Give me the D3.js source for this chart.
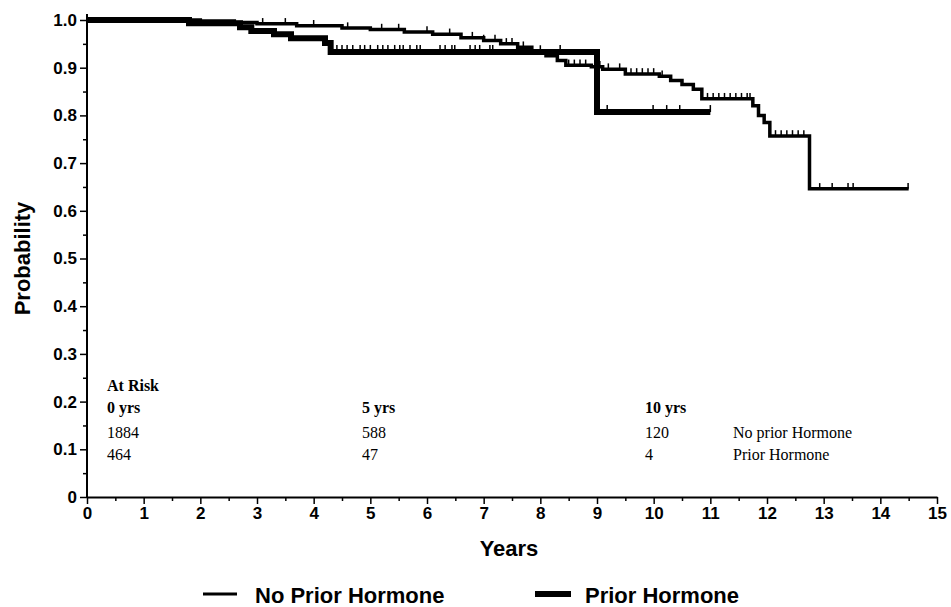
<!DOCTYPE html>
<html>
<head>
<meta charset="utf-8">
<script src="https://cdn.jsdelivr.net/npm/d3@7"></script>
<style>
	body { margin: 0; background: white; }
	.tick text { font-family: 'Liberation Sans', Arial, sans-serif; font-weight: bold; font-size: 17px; fill: black; }
	.axisLabel { font-family: 'Liberation Sans', Arial, sans-serif; font-weight: bold; font-size: 22px; }
	.risk { font-family: 'Liberation Serif', 'Times New Roman', serif; font-size: 16px; }
	.riskBold { font-family: 'Liberation Serif', 'Times New Roman', serif; font-size: 16px; font-weight: bold; }
	.legend { font-family: 'Liberation Sans', Arial, sans-serif; font-weight: bold; font-size: 22px; }
</style>
</head>
<body>
<div></div>
<script>
// Kaplan-Meier steps: time (years) and survival after that time
var no_prior_time = [0, 2.0, 2.6, 3.0, 3.7, 4.5, 5.0, 5.6, 6.1, 6.6, 7.0, 7.3, 7.6, 7.85, 8.1, 8.3, 8.45, 8.9, 9.1, 9.5, 10.1, 10.3, 10.5, 10.7, 10.85, 11.75, 11.85, 11.95, 12.05, 12.75, 14.5];
var no_prior_surv = [1.0, 0.998, 0.995, 0.992, 0.988, 0.983, 0.980, 0.975, 0.970, 0.963, 0.957, 0.950, 0.943, 0.935, 0.925, 0.915, 0.905, 0.902, 0.897, 0.887, 0.882, 0.873, 0.865, 0.855, 0.835, 0.820, 0.800, 0.785, 0.757, 0.646, 0.646];
var prior_time = [0, 1.8, 2.7, 2.9, 3.3, 3.6, 4.2, 4.3, 9.0, 11.0];
var prior_surv = [1.0, 0.993, 0.985, 0.977, 0.970, 0.962, 0.952, 0.933, 0.807, 0.807];

// censored observations (years)
var no_prior_cens = [3.1, 3.5, 4.0, 4.6, 5.2, 5.5, 6.0, 6.4, 6.8, 7.0, 7.2, 7.4, 7.5, 7.7, 8.0, 8.5, 8.6, 8.7, 8.8,
	9.05, 9.2, 9.4, 9.6, 9.7, 9.8, 9.9, 10.0, 10.15, 10.95, 11.05, 11.15, 11.25, 11.35, 11.45, 11.55, 11.65, 11.7,
	12.15, 12.25, 12.35, 12.45, 12.55, 12.65, 12.93, 13.15, 13.43, 13.52, 14.49];
var prior_cens = [4.41, 4.5, 4.59, 4.69, 4.82, 4.9, 5.0, 5.13, 5.22, 5.31, 5.43, 5.52, 5.58, 5.7, 5.82, 5.88,
	6.23, 6.32, 6.44, 6.49, 6.76, 6.85, 6.93, 7.11, 7.16, 8.35, 9.18, 9.99, 10.23, 10.46, 11.0];

var y_ticks = [0, 0.1, 0.2, 0.3, 0.4, 0.5, 0.6, 0.7, 0.8, 0.9, 1.0];
var x_ticks = d3.range(0, 16);

// at risk table
var risk_years = ['0 yrs', '5 yrs', '10 yrs'];
var risk_no_prior = ['1884', '588', '120'];
var risk_prior = ['464', '47', '4'];
var risk_groups = ['No prior Hormone', 'Prior Hormone'];

var legend_names = ['No Prior Hormone', 'Prior Hormone'];

var margin = {top: 20, right: 14, bottom: 110, left: 87};
var width = 951 - margin.left - margin.right;
var height = 607 - margin.top - margin.bottom;

var svg = d3.select('div')
	.append('svg')
		.attr('width', 951)
		.attr('height', 607);

var g = svg.append('g')
	.attr('transform', 'translate(' + margin.left + ',' + margin.top + ')');

var x = d3.scaleLinear().domain([0, 15]).range([0, width]);
var y = d3.scaleLinear().domain([0, 1]).range([height, 0]);

// minor ticks
g.append('g')
	.attr('transform', 'translate(0,' + height + ')')
	.call(d3.axisBottom(x).tickValues(d3.range(0.5, 15, 1)).tickSize(4).tickFormat(''))
	.call(a => a.select('.domain').remove());
g.append('g')
	.call(d3.axisLeft(y).tickValues(d3.range(0.05, 1, 0.1)).tickSize(4).tickFormat(''))
	.call(a => a.select('.domain').remove());

// x axis
g.append('g')
	.attr('class', 'axis')
	.attr('transform', 'translate(0,' + height + ')')
	.call(d3.axisBottom(x).tickValues(x_ticks).tickSize(7).tickSizeOuter(0).tickPadding(3).tickFormat(d3.format('d')))
	.call(a => a.select('.domain').attr('stroke-width', 2));

// y axis
g.append('g')
	.attr('class', 'axis')
	.call(d3.axisLeft(y).tickValues(y_ticks).tickSize(7).tickSizeOuter(0).tickPadding(3)
		.tickFormat(d => d == 0 ? '0' : d3.format('.1f')(d)))
	.call(a => a.select('.domain').attr('stroke-width', 2).attr('d', 'M0,' + height + 'V-6'));

g.selectAll('.tick line').attr('stroke-width', 1.5);

// axis labels
svg.append('text')
	.attr('class', 'axisLabel')
	.attr('text-anchor', 'middle')
	.attr('x', margin.left + x(7.5) - 3)
	.attr('y', 556)
	.text('Years');
svg.append('text')
	.attr('class', 'axisLabel')
	.attr('text-anchor', 'middle')
	.attr('transform', 'translate(30,' + (margin.top + height / 2) + ') rotate(-90)')
	.text('Probability');

// survival curves
var line = d3.line()
	.x(d => x(d[0]))
	.y(d => y(d[1]))
	.curve(d3.curveStepAfter);

var surv_at = function(times, surv, t) {
	var i = d3.bisectRight(times, t) - 1;
	return surv[Math.max(0, i)];
};

var curves = [
	{time: no_prior_time, surv: no_prior_surv, cens: no_prior_cens, w: 3.5},
	{time: prior_time, surv: prior_surv, cens: prior_cens, w: 6}
];

curves.forEach(function(c) {
	g.append('path')
		.datum(d3.zip(c.time, c.surv))
		.attr('fill', 'none')
		.attr('stroke', 'black')
		.attr('stroke-width', c.w)
		.attr('d', line);
	g.selectAll(null)
		.data(c.cens)
		.enter()
		.append('line')
			.attr('x1', d => x(d))
			.attr('x2', d => x(d))
			.attr('y1', d => y(surv_at(c.time, c.surv, d)))
			.attr('y2', d => y(surv_at(c.time, c.surv, d)) - c.w / 2 - 4)
			.attr('stroke', 'black')
			.attr('stroke-width', 1.5);
});

// at risk table
var rx = [107, 362, 645];
svg.append('text')
	.attr('class', 'riskBold')
	.attr('x', rx[0])
	.attr('y', 391)
	.text('At Risk');
svg.selectAll('risk_year')
	.data(risk_years)
	.enter()
	.append('text')
		.attr('class', 'riskBold')
		.attr('x', (d, i) => rx[i])
		.attr('y', 413)
		.text(d => d);
svg.selectAll('risk_np')
	.data(risk_no_prior)
	.enter()
	.append('text')
		.attr('class', 'risk')
		.attr('x', (d, i) => rx[i])
		.attr('y', 438)
		.text(d => d);
svg.selectAll('risk_p')
	.data(risk_prior)
	.enter()
	.append('text')
		.attr('class', 'risk')
		.attr('x', (d, i) => rx[i])
		.attr('y', 460)
		.text(d => d);
svg.selectAll('risk_group')
	.data(risk_groups)
	.enter()
	.append('text')
		.attr('class', 'risk')
		.attr('x', 733)
		.attr('y', (d, i) => 438 + i * 22)
		.text(d => d);

// legend
var lx = [203, 535];
svg.selectAll('legend_line')
	.data(legend_names)
	.enter()
	.append('line')
		.attr('x1', (d, i) => lx[i])
		.attr('x2', (d, i) => lx[i] + (i == 0 ? 34 : 36))
		.attr('y1', 594)
		.attr('y2', 594)
		.attr('stroke', 'black')
		.attr('stroke-width', (d, i) => i == 0 ? 3 : 6);
svg.selectAll('legend_text')
	.data(legend_names)
	.enter()
	.append('text')
		.attr('class', 'legend')
		.attr('x', (d, i) => lx[i] + (i == 0 ? 52 : 50))
		.attr('y', 603)
		.text(d => d);
</script>
</body>
</html>
